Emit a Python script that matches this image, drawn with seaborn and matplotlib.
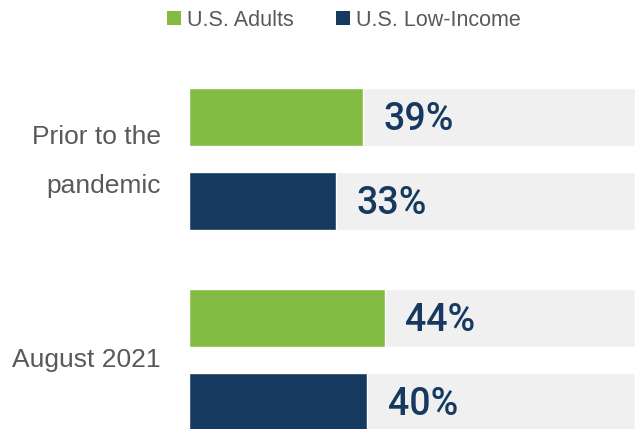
import matplotlib
matplotlib.use("Agg")
import matplotlib.pyplot as plt
import seaborn as sns
import numpy as np
import pandas as pd
from matplotlib.patches import Patch
from matplotlib.transforms import blended_transform_factory

periods = ["Prior to the\npandemic", "August 2021"]
series = ["U.S. Adults", "U.S. Low-Income"]
adults = [39, 44]
low_income = [33, 40]
value_labels = ["39%", "33%", "44%", "40%"]

colors = {"U.S. Adults": "#82bc42", "U.S. Low-Income": "#15395f"}
track_color = "#f0f0f0"
text_gray = "#595959"

sns.set_theme(style="white")
plt.rcParams["font.family"] = ["Liberation Sans", "DejaVu Sans"]

group_gap = 2.393
rows = []
for g, p in enumerate(periods):
    for s, (name, vals) in enumerate(zip(series, [adults, low_income])):
        rows.append({"period": p, "series": name, "value": vals[g],
                     "pos": g * group_gap + s})
df = pd.DataFrame(rows)
df["label"] = value_labels

fig = plt.figure(figsize=(6.37, 4.29), dpi=100)
ax = fig.add_axes([189 / 637, 0, 446 / 637, 1])

sns.barplot(data=df.assign(full=100), x="full", y="pos", orient="h",
            native_scale=True, color=track_color, saturation=1, width=0.69,
            ax=ax, errorbar=None)
sns.barplot(data=df, x="value", y="pos", hue="series", palette=colors,
            orient="h", native_scale=True, dodge=False, saturation=1,
            width=0.69, ax=ax, legend=False, errorbar=None)

ax.set_xlim(0, 100)
ax.set_ylim((429 - 117) / 84, -117 / 84)
ax.set_axis_off()

for _, r in df.iterrows():
    ax.annotate(r["label"], xy=(r["value"], r["pos"]), xytext=(14.5, -2),
                textcoords="offset points", ha="left", va="center",
                fontsize=27, fontweight=500, color="#15395f",
                family=["Roboto", "DejaVu Sans"])

trans = blended_transform_factory(fig.transFigure, ax.transData)
for g, p in enumerate(periods):
    ax.text(161 / 637, g * group_gap + 0.5 + (0.03 if g == 0 else 0), p,
            transform=trans, ha="right", va="center", fontsize=19,
            color=text_gray, linespacing=2.3)

handles = [Patch(facecolor=colors[s], edgecolor="none", label=s) for s in series]
fig.legend(handles=handles, loc="center", bbox_to_anchor=(344 / 637, 1 - 20 / 429),
           ncol=2, frameon=False, fontsize=15.5, handlelength=0.65,
           handleheight=0.65, handletextpad=0.3, columnspacing=1.95,
           labelcolor=text_gray)

fig.savefig("out.png", dpi=100)
